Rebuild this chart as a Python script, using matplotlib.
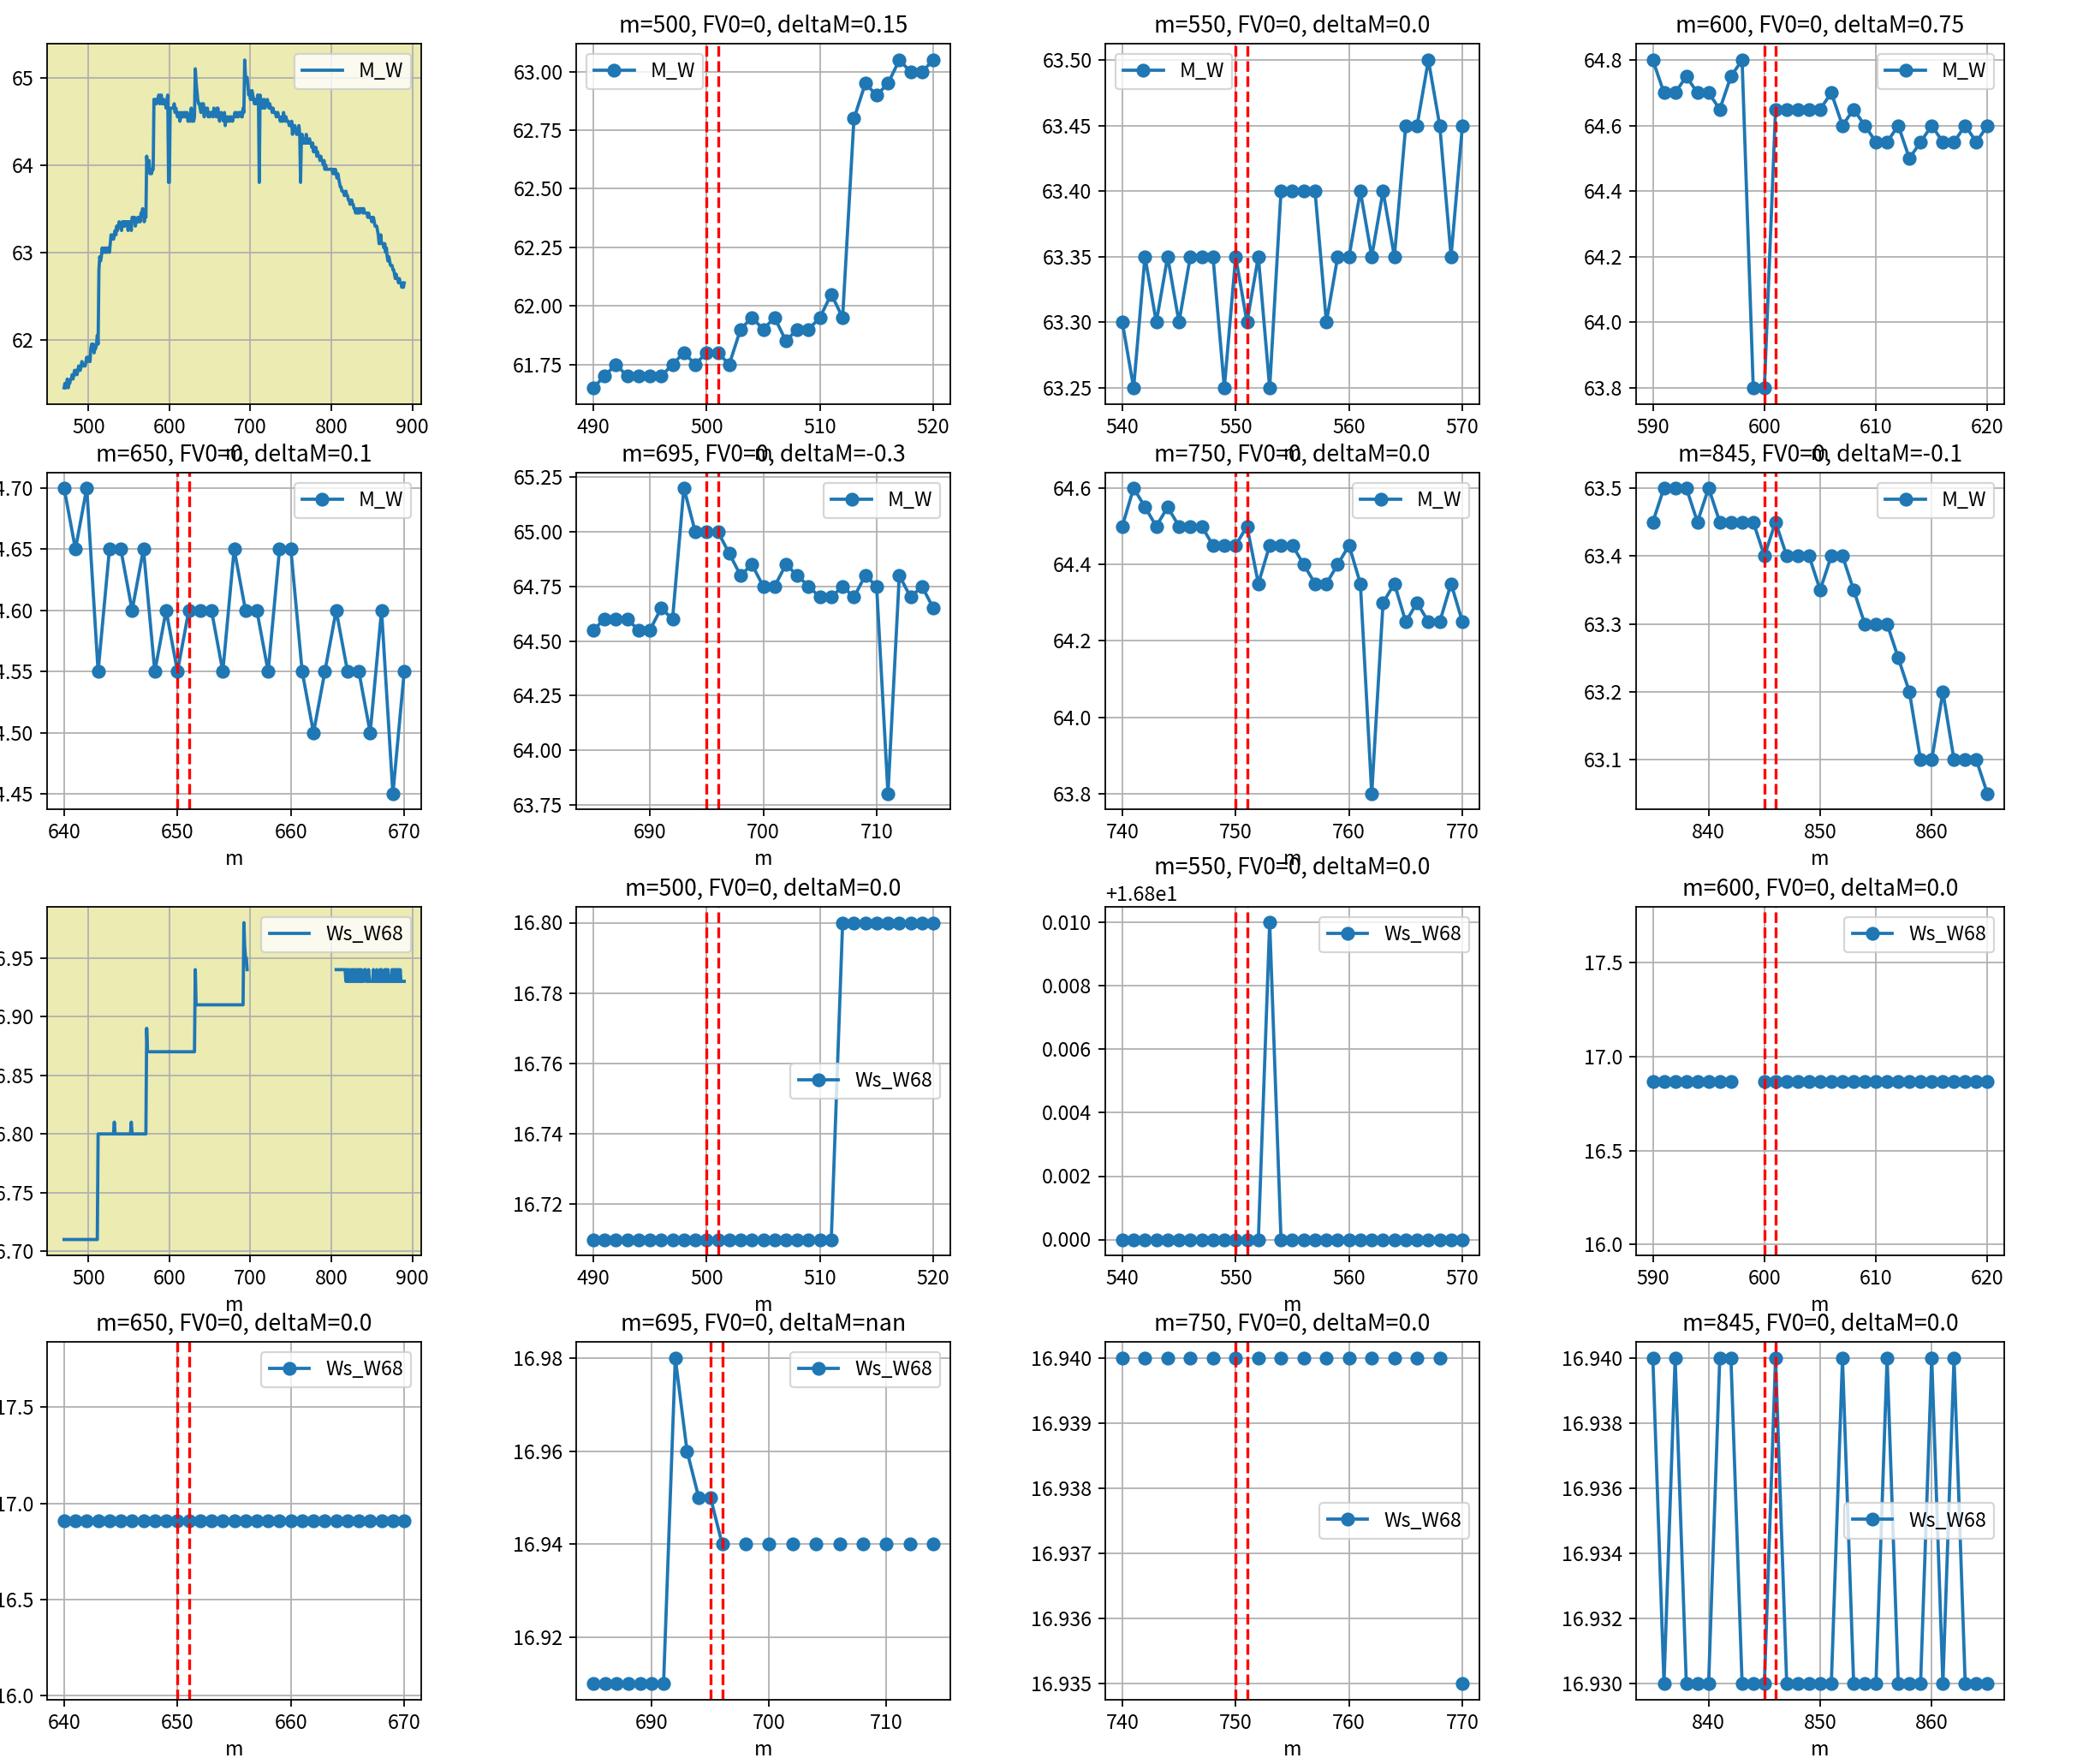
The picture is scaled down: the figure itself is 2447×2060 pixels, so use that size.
import numpy as np
import matplotlib
matplotlib.use('Agg')
import matplotlib.pyplot as plt
from matplotlib.ticker import MaxNLocator

plt.rcParams['font.family'] = ['Noto Sans CJK SC', 'DejaVu Sans']
plt.rcParams['axes.unicode_minus'] = False
plt.rcParams['font.size'] = 10.5
plt.rcParams['axes.titlesize'] = 12
plt.rcParams['axes.labelsize'] = 10.5
plt.rcParams['legend.fontsize'] = 10.5
plt.rcParams['lines.linewidth'] = 1.7
plt.rcParams['lines.markersize'] = 6.3

nan = float('nan')

# m axis of the series
m_first, m_last = 470, 890

# M_W values, m = 470 .. 890 (one row per decade)
M_W = [
    61.45, 61.50, 61.45, 61.50, 61.55, 61.45, 61.50, 61.50, 61.55, 61.55,  # 470
    61.60, 61.55, 61.60, 61.65, 61.60, 61.65, 61.60, 61.65, 61.70, 61.65,  # 480
    61.65, 61.70, 61.75, 61.70, 61.70, 61.70, 61.70, 61.75, 61.80, 61.75,  # 490
    61.80, 61.80, 61.75, 61.90, 61.95, 61.90, 61.95, 61.85, 61.90, 61.90,  # 500
    61.95, 62.05, 61.95, 62.80, 62.95, 62.90, 62.95, 63.05, 63.00, 63.00,  # 510
    63.05, 63.00, 63.05, 63.00, 63.05, 63.05, 63.00, 63.10, 63.20, 63.15,  # 520
    63.20, 63.15, 63.20, 63.25, 63.20, 63.30, 63.25, 63.30, 63.35, 63.30,  # 530
    63.30, 63.25, 63.35, 63.30, 63.35, 63.30, 63.35, 63.35, 63.35, 63.25,  # 540
    63.35, 63.30, 63.35, 63.25, 63.40, 63.40, 63.40, 63.40, 63.30, 63.35,  # 550
    63.35, 63.40, 63.35, 63.40, 63.35, 63.45, 63.45, 63.50, 63.45, 63.35,  # 560
    63.45, 63.40, 64.10, 64.00, 63.95, 64.05, 63.90, 63.95, 63.90, 63.95,  # 570
    63.95, 64.75, 64.70, 64.75, 64.70, 64.75, 64.75, 64.80, 64.70, 64.75,  # 580
    64.80, 64.70, 64.70, 64.75, 64.70, 64.70, 64.65, 64.75, 64.80, 63.80,  # 590
    63.80, 64.65, 64.65, 64.65, 64.65, 64.65, 64.70, 64.60, 64.65, 64.60,  # 600
    64.55, 64.55, 64.60, 64.50, 64.55, 64.60, 64.55, 64.55, 64.60, 64.55,  # 610
    64.60, 64.55, 64.60, 64.50, 64.55, 64.50, 64.55, 64.65, 64.50, 64.55,  # 620
    64.50, 64.55, 65.10, 64.95, 64.85, 64.75, 64.70, 64.70, 64.65, 64.60,  # 630
    64.70, 64.65, 64.70, 64.55, 64.65, 64.65, 64.60, 64.65, 64.55, 64.60,  # 640
    64.55, 64.60, 64.60, 64.60, 64.55, 64.65, 64.60, 64.60, 64.55, 64.65,  # 650
    64.65, 64.55, 64.50, 64.55, 64.60, 64.55, 64.55, 64.50, 64.60, 64.45,  # 660
    64.55, 64.50, 64.55, 64.50, 64.55, 64.50, 64.55, 64.55, 64.50, 64.55,  # 670
    64.55, 64.60, 64.55, 64.60, 64.55, 64.55, 64.60, 64.60, 64.60, 64.55,  # 680
    64.55, 64.65, 64.60, 65.20, 65.00, 65.00, 65.00, 64.90, 64.80, 64.85,  # 690
    64.75, 64.75, 64.85, 64.80, 64.75, 64.70, 64.70, 64.75, 64.70, 64.80,  # 700
    64.75, 63.80, 64.80, 64.70, 64.75, 64.65, 64.70, 64.75, 64.65, 64.70,  # 710
    64.70, 64.75, 64.70, 64.65, 64.70, 64.65, 64.65, 64.60, 64.65, 64.60,  # 720
    64.60, 64.60, 64.55, 64.60, 64.60, 64.55, 64.55, 64.50, 64.55, 64.50,  # 730
    64.50, 64.60, 64.55, 64.50, 64.55, 64.50, 64.50, 64.50, 64.45, 64.45,  # 740
    64.45, 64.50, 64.35, 64.45, 64.45, 64.45, 64.40, 64.35, 64.35, 64.40,  # 750
    64.45, 64.35, 63.80, 64.30, 64.35, 64.25, 64.30, 64.25, 64.25, 64.35,  # 760
    64.25, 64.25, 64.25, 64.30, 64.25, 64.25, 64.20, 64.25, 64.15, 64.20,  # 770
    64.15, 64.20, 64.10, 64.15, 64.10, 64.10, 64.05, 64.10, 64.05, 64.05,  # 780
    64.00, 64.05, 63.95, 64.00, 63.95, 63.95, 63.95, 63.95, 63.95, 63.95,  # 790
    63.95, 63.95, 63.90, 63.95, 63.90, 63.95, 63.90, 63.85, 63.90, 63.85,  # 800
    63.80, 63.75, 63.75, 63.70, 63.70, 63.70, 63.65, 63.65, 63.70, 63.65,  # 810
    63.65, 63.60, 63.60, 63.55, 63.55, 63.60, 63.55, 63.55, 63.50, 63.50,  # 820
    63.45, 63.50, 63.45, 63.45, 63.50, 63.45, 63.50, 63.50, 63.50, 63.45,  # 830
    63.50, 63.45, 63.45, 63.45, 63.45, 63.40, 63.45, 63.40, 63.40, 63.40,  # 840
    63.35, 63.40, 63.40, 63.35, 63.30, 63.30, 63.30, 63.25, 63.20, 63.10,  # 850
    63.10, 63.20, 63.10, 63.10, 63.10, 63.05, 63.10, 63.00, 63.05, 62.95,  # 860
    62.90, 62.95, 62.90, 62.85, 62.85, 62.85, 62.80, 62.80, 62.75, 62.70,  # 870
    62.75, 62.70, 62.70, 62.65, 62.70, 62.65, 62.65, 62.60, 62.65, 62.60,  # 880
    62.65,                                                                 # 890
]

# Ws_W68 values, m = 470 .. 890 (nan = missing)
Ws_W68 = [
    16.71, 16.71, 16.71, 16.71, 16.71, 16.71, 16.71, 16.71, 16.71, 16.71,  # 470
    16.71, 16.71, 16.71, 16.71, 16.71, 16.71, 16.71, 16.71, 16.71, 16.71,  # 480
    16.71, 16.71, 16.71, 16.71, 16.71, 16.71, 16.71, 16.71, 16.71, 16.71,  # 490
    16.71, 16.71, 16.71, 16.71, 16.71, 16.71, 16.71, 16.71, 16.71, 16.71,  # 500
    16.71, 16.71, 16.80, 16.80, 16.80, 16.80, 16.80, 16.80, 16.80, 16.80,  # 510
    16.80, 16.80, 16.80, 16.80, 16.80, 16.80, 16.80, 16.80, 16.80, 16.80,  # 520
    16.80, 16.80, 16.81, 16.80, 16.80, 16.80, 16.80, 16.80, 16.80, 16.80,  # 530
    16.80, 16.80, 16.80, 16.80, 16.80, 16.80, 16.80, 16.80, 16.80, 16.80,  # 540
    16.80, 16.80, 16.80, 16.81, 16.80, 16.80, 16.80, 16.80, 16.80, 16.80,  # 550
    16.80, 16.80, 16.80, 16.80, 16.80, 16.80, 16.80, 16.80, 16.80, 16.80,  # 560
    16.80, 16.80, 16.89, 16.87, 16.87, 16.87, 16.87, 16.87, 16.87, 16.87,  # 570
    16.87, 16.87, 16.87, 16.87, 16.87, 16.87, 16.87, 16.87, 16.87, 16.87,  # 580
    16.87, 16.87, 16.87, 16.87, 16.87, 16.87, 16.87, 16.87, nan,   nan,    # 590
    16.87, 16.87, 16.87, 16.87, 16.87, 16.87, 16.87, 16.87, 16.87, 16.87,  # 600
    16.87, 16.87, 16.87, 16.87, 16.87, 16.87, 16.87, 16.87, 16.87, 16.87,  # 610
    16.87, 16.87, 16.87, 16.87, 16.87, 16.87, 16.87, 16.87, 16.87, 16.87,  # 620
    16.87, 16.87, 16.94, 16.91, 16.91, 16.91, 16.91, 16.91, 16.91, 16.91,  # 630
    16.91, 16.91, 16.91, 16.91, 16.91, 16.91, 16.91, 16.91, 16.91, 16.91,  # 640
    16.91, 16.91, 16.91, 16.91, 16.91, 16.91, 16.91, 16.91, 16.91, 16.91,  # 650
    16.91, 16.91, 16.91, 16.91, 16.91, 16.91, 16.91, 16.91, 16.91, 16.91,  # 660
    16.91, 16.91, 16.91, 16.91, 16.91, 16.91, 16.91, 16.91, 16.91, 16.91,  # 670
    16.91, 16.91, 16.91, 16.91, 16.91, 16.91, 16.91, 16.91, 16.91, 16.91,  # 680
    16.91, 16.91, 16.98, 16.96, 16.95, 16.95, 16.94, nan,   16.94, nan,    # 690
    16.94, nan,   16.94, nan,   16.94, nan,   16.94, nan,   16.94, nan,    # 700
    16.94, nan,   16.94, nan,   16.94, nan,   16.94, nan,   16.94, nan,    # 710
    16.94, nan,   16.94, nan,   16.94, nan,   16.94, nan,   16.94, nan,    # 720
    16.94, nan,   16.94, nan,   16.94, nan,   16.94, nan,   16.94, nan,    # 730
    16.94, nan,   16.94, nan,   16.94, nan,   16.94, nan,   16.94, nan,    # 740
    16.94, nan,   16.94, nan,   16.94, nan,   16.94, nan,   16.94, nan,    # 750
    16.94, nan,   16.94, nan,   16.94, nan,   16.94, nan,   16.94, nan,    # 760
    16.935, nan,  16.94, nan,   16.94, nan,   16.94, nan,   16.94, nan,    # 770
    16.94, nan,   16.94, nan,   16.94, nan,   16.94, nan,   16.94, nan,    # 780
    16.94, nan,   16.94, nan,   16.94, nan,   16.94, nan,   16.94, nan,    # 790
    16.94, nan,   16.94, nan,   16.94, nan,   16.94, 16.94, 16.94, 16.94,  # 800
    16.94, 16.94, 16.94, 16.94, 16.94, 16.94, 16.94, 16.94, 16.93, 16.94,  # 810
    16.93, 16.94, 16.93, 16.93, 16.94, 16.93, 16.94, 16.93, 16.94, 16.93,  # 820
    16.93, 16.94, 16.93, 16.94, 16.93, 16.94, 16.93, 16.94, 16.93, 16.93,  # 830
    16.93, 16.94, 16.94, 16.93, 16.93, 16.93, 16.94, 16.93, 16.93, 16.93,  # 840
    16.93, 16.93, 16.94, 16.93, 16.93, 16.93, 16.94, 16.93, 16.93, 16.93,  # 850
    16.94, 16.93, 16.94, 16.93, 16.93, 16.93, 16.94, 16.93, 16.94, 16.93,  # 860
    16.94, 16.93, 16.93, 16.93, 16.93, 16.94, 16.93, 16.94, 16.93, 16.94,  # 870
    16.93, 16.94, 16.93, 16.94, 16.93, 16.94, 16.93, 16.93, 16.93, 16.93,  # 880
    16.93,                                                                 # 890
]

# event positions examined in the detail panels and their titles' deltaM
centers = [500, 550, 600, 650, 695, 750, 845]
deltaM_MW = ['0.15', '0.0', '0.75', '0.1', '-0.3', '0.0', '-0.1']
deltaM_Ws = ['0.0', '0.0', '0.0', '0.0', 'nan', '0.0', '0.0']
FV0 = [0, 0, 0, 0, 0, 0, 0]

m = np.arange(m_first, m_last + 1)
MW = np.array(M_W, dtype=float)
WS = np.array(Ws_W68, dtype=float)

W, H, DPI = 2447, 2060, 160
fig = plt.figure(figsize=(W / DPI, H / DPI), dpi=DPI)

col_x = [(55, 492), (673, 1110), (1291, 1728), (1911, 2341)]
row_y = [(51, 472), (552, 945), (1059, 1466), (1567, 1985)]


def add_ax(r, c):
    x0, x1 = col_x[c]
    y0, y1 = row_y[r]
    ax = fig.add_axes([x0 / W, 1 - y1 / H, (x1 - x0) / W, (y1 - y0) / H])
    ax.yaxis.set_major_locator(MaxNLocator(nbins=7, steps=[1, 2, 2.5, 5, 10]))
    ax.xaxis.set_major_locator(MaxNLocator(nbins=5, steps=[1, 2, 2.5, 5, 10]))
    return ax


overview_bg = (0.75, 0.75, 0.0, 0.3)

legend_locs_MW = ['upper left', 'upper left', 'upper right', 'upper right',
                  'upper right', 'upper right', 'upper right']
legend_locs_Ws = ['center right', 'upper right', 'upper right', 'upper right',
                  'upper right', 'center right', 'center right']


def draw_block(row0, values, name, deltas, locs):
    ax = add_ax(row0, 0)
    ax.set_facecolor(overview_bg)
    ax.plot(m, values, label=name)
    ax.grid(True)
    ax.legend(loc='upper right')
    ax.set_xlabel('m')
    slots = [(row0, 1), (row0, 2), (row0, 3), (row0 + 1, 0), (row0 + 1, 1),
             (row0 + 1, 2), (row0 + 1, 3)]
    for k, c in enumerate(centers):
        r, cc = slots[k]
        ax = add_ax(r, cc)
        sel = (m >= c - 10) & (m <= c + 20)
        ax.plot(m[sel], values[sel], marker='o', label=name)
        ax.axvline(c, color='r', linestyle='--', linewidth=1.5)
        ax.axvline(c + 1, color='r', linestyle='--', linewidth=1.5)
        ax.set_title(f'm={c}, FV0={FV0[k]}, deltaM={deltas[k]}')
        ax.grid(True)
        ax.legend(loc=locs[k])
        ax.set_xlabel('m')


draw_block(0, MW, 'M_W', deltaM_MW, legend_locs_MW)
draw_block(2, WS, 'Ws_W68', deltaM_Ws, legend_locs_Ws)

fig.savefig('out.png', dpi=DPI)
